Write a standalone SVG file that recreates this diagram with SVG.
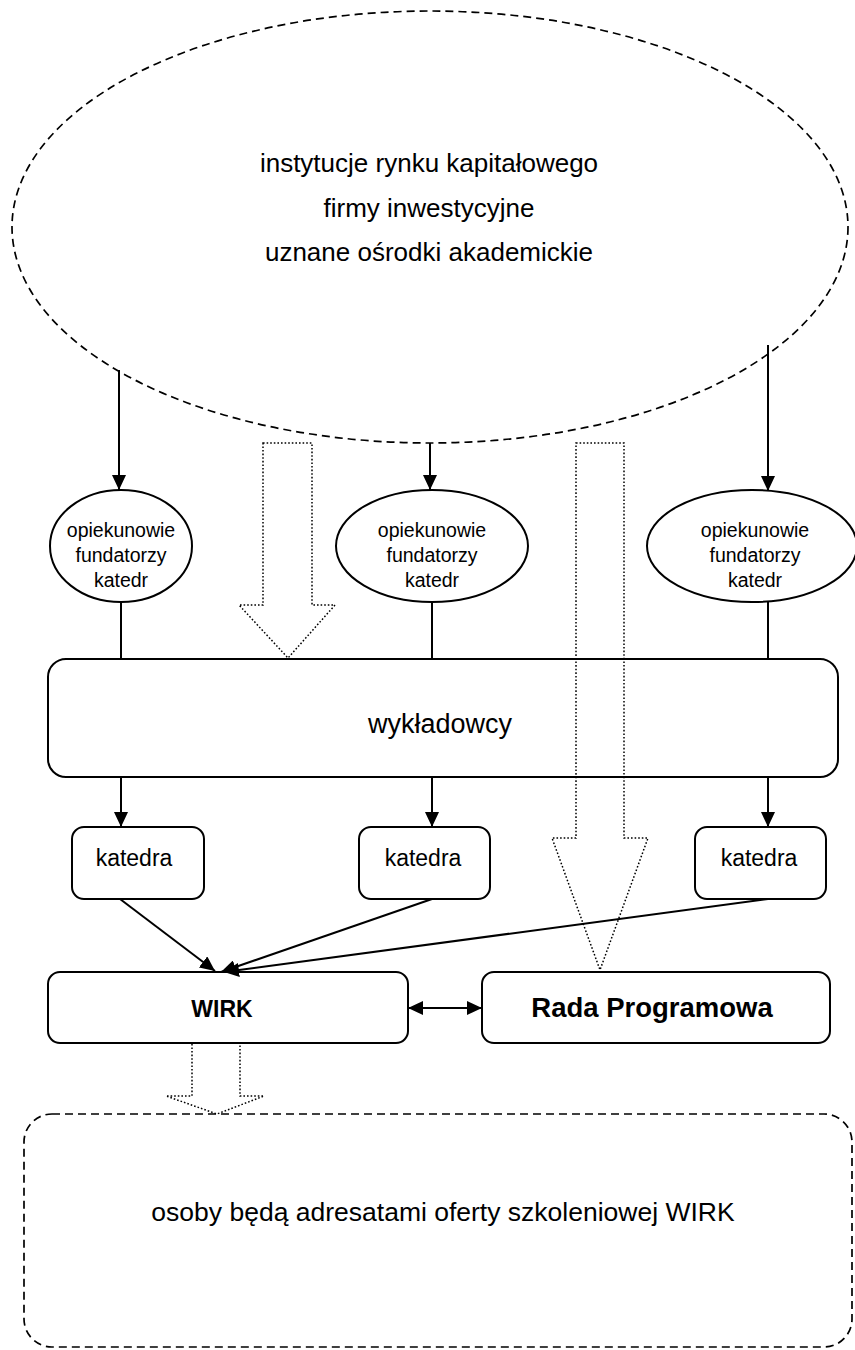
<svg xmlns="http://www.w3.org/2000/svg" width="855" height="1350" viewBox="0 0 855 1350">
<style>
.t{font-family:"Liberation Sans",Arial,sans-serif;fill:#000;text-anchor:middle}
.b{font-weight:bold}
.solid{fill:#fff;stroke:#000;stroke-width:2}
.dash{fill:none;stroke:#000;stroke-width:1.7;stroke-dasharray:8 5}
.dot{fill:none;stroke:#000;stroke-width:1.5;stroke-dasharray:1.6 2}
.con{fill:none;stroke:#000;stroke-width:2}
</style>
<defs>
<marker id="ah" markerUnits="userSpaceOnUse" markerWidth="15" markerHeight="14" viewBox="0 0 15 14" refX="15" refY="7" orient="auto-start-reverse">
<path d="M0,0 L15,7 L0,14 Z" fill="#000"/>
</marker>
</defs>
<rect width="855" height="1350" fill="#fff"/>

<g id="zrodla">
<ellipse class="dash" cx="430" cy="227" rx="418" ry="216"/>
<text class="t" x="429" y="172" font-size="26">instytucje rynku kapitałowego</text>
<text class="t" x="429" y="217" font-size="26">firmy inwestycyjne</text>
<text class="t" x="429" y="261" font-size="26">uznane ośrodki akademickie</text>
</g>

<g id="opiekunowie1">
<ellipse class="solid" cx="121" cy="546" rx="71" ry="56"/>
<text class="t" font-size="19.5"><tspan x="121" y="537">opiekunowie</tspan><tspan x="121" y="562">fundatorzy</tspan><tspan x="121" y="587">katedr</tspan></text>
</g>
<g id="opiekunowie2">
<ellipse class="solid" cx="432" cy="546" rx="96" ry="56"/>
<text class="t" font-size="19.5"><tspan x="432" y="537">opiekunowie</tspan><tspan x="432" y="562">fundatorzy</tspan><tspan x="432" y="587">katedr</tspan></text>
</g>
<g id="opiekunowie3">
<ellipse class="solid" cx="752" cy="546" rx="105" ry="56"/>
<text class="t" font-size="19.5"><tspan x="755" y="537">opiekunowie</tspan><tspan x="755" y="562">fundatorzy</tspan><tspan x="755" y="587">katedr</tspan></text>
</g>

<g id="wykladowcy">
<rect class="solid" x="48" y="659" width="790" height="118" rx="18"/>
<text class="t" x="440" y="733" font-size="27">wykładowcy</text>
</g>

<g id="katedra1">
<rect class="solid" x="72" y="827" width="132" height="72" rx="12"/>
<text class="t" x="134" y="866" font-size="23">katedra</text>
</g>
<g id="katedra2">
<rect class="solid" x="359" y="827" width="131" height="72" rx="12"/>
<text class="t" x="423" y="866" font-size="23">katedra</text>
</g>
<g id="katedra3">
<rect class="solid" x="695" y="827" width="131" height="72" rx="12"/>
<text class="t" x="759" y="866" font-size="23">katedra</text>
</g>

<g id="wirk">
<rect class="solid" x="48" y="972" width="360" height="71" rx="12"/>
<text class="t b" x="222" y="1017" font-size="23">WIRK</text>
</g>
<g id="rada">
<rect class="solid" x="482" y="972" width="348" height="71" rx="12"/>
<text class="t b" x="652" y="1017" font-size="27.5">Rada Programowa</text>
</g>

<g id="adresaci">
<rect class="dash" x="24" y="1114" width="828" height="233" rx="28"/>
<text class="t" x="443" y="1221" font-size="26.5">osoby będą adresatami oferty szkoleniowej WIRK</text>
</g>

<g id="connectors">
<line class="con" x1="119" y1="370" x2="119" y2="490" marker-end="url(#ah)"/>
<line class="con" x1="430" y1="443" x2="430" y2="490" marker-end="url(#ah)"/>
<line class="con" x1="768" y1="345" x2="768" y2="491" marker-end="url(#ah)"/>
<line class="con" x1="121" y1="602" x2="121" y2="659"/>
<line class="con" x1="432" y1="602" x2="432" y2="659"/>
<line class="con" x1="768" y1="601" x2="768" y2="659"/>
<line class="con" x1="121" y1="777" x2="121" y2="827" marker-end="url(#ah)"/>
<line class="con" x1="432" y1="777" x2="432" y2="827" marker-end="url(#ah)"/>
<line class="con" x1="768" y1="777" x2="768" y2="827" marker-end="url(#ah)"/>
<line class="con" x1="120" y1="899" x2="215" y2="971" marker-end="url(#ah)"/>
<line class="con" x1="432" y1="899" x2="221" y2="972" marker-end="url(#ah)"/>
<line class="con" x1="768" y1="899" x2="224" y2="972" marker-end="url(#ah)"/>
<line class="con" x1="408" y1="1008" x2="482" y2="1008" marker-start="url(#ah)" marker-end="url(#ah)"/>
<path class="dot" d="M263,443 L312,443 L312,605 L335,605 L288,658 L239,605 L263,605 Z"/>
<path class="dot" d="M576,443 L624,443 L624,838 L648,838 L600,970 L552,838 L576,838 Z"/>
<path class="dot" d="M192,1043 L240,1043 L240,1096 L264,1096 L217,1114 L166,1096 L192,1096 Z"/>
</g>
</svg>
